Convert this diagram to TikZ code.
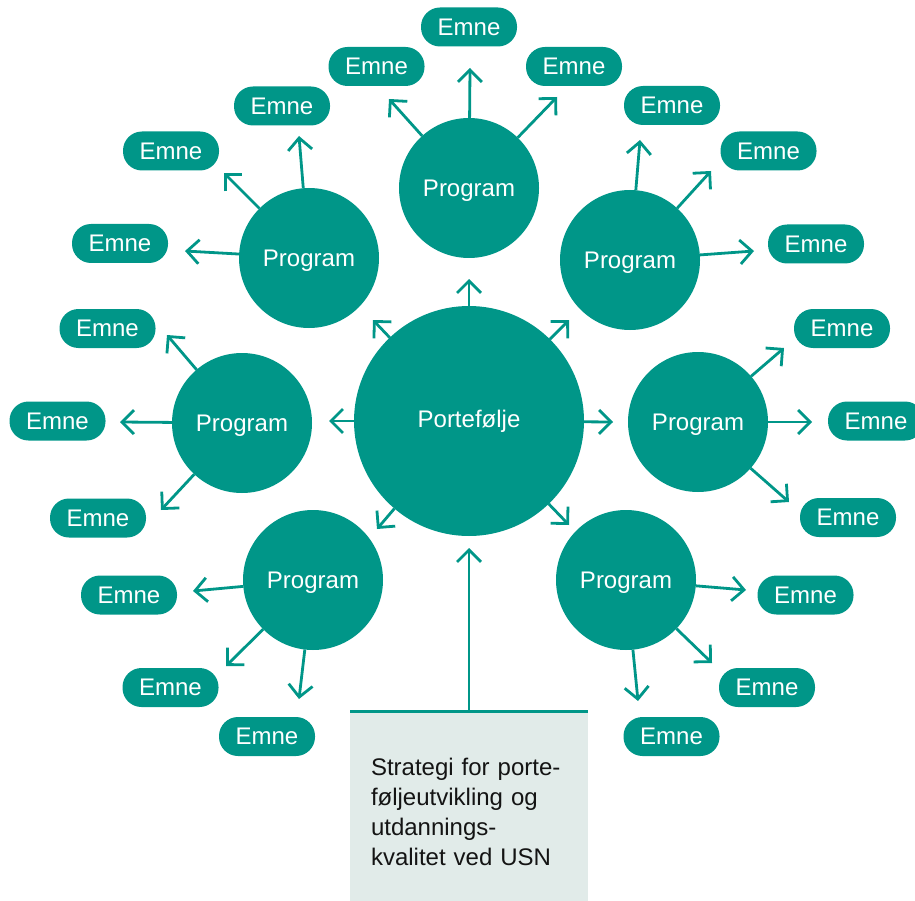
\documentclass[tikz,border=0pt]{standalone}
\usepackage{fontspec}
\newfontfamily\usnfont{Liberation Sans}
\definecolor{usngreen}{RGB}{0,150,136}
\definecolor{usnlight}{RGB}{225,235,233}
\definecolor{usnblack}{RGB}{20,20,20}
\usepackage{tikz}
\usetikzlibrary{arrows.meta}
\tikzstyle{base}=[x=1pt, y=-1pt, inner sep=0pt, outer sep=0pt]
\tikzstyle{port}=[circle, fill=usngreen, text=white, minimum size=230pt]
\tikzstyle{prog}=[circle, fill=usngreen, text=white, text depth=0pt, minimum size=140pt]
\tikzstyle{emne}=[rectangle, rounded corners=19pt, fill=usngreen, text=white, minimum width=96pt, minimum height=39pt]
\tikzstyle{arr}=[usngreen, line width=2.8pt, -{Straight Barb[length=12pt, width=24pt]}]
\tikzstyle{strat}=[rectangle, fill=usnlight, text=usnblack, align=left, text width=196pt, minimum width=238pt, minimum height=202pt]

\begin{document}
\begin{tikzpicture}[base]
    \usnfont \fontsize{24}{30}\selectfont
        \useasboundingbox (0,0) rectangle (915,901);
        \node [port] (port) at (469,421) {Portefølje};
        \node [prog] (p1) at (469,188) {Program};
        \node [prog] (p2) at (309,258) {Program};
        \node [prog] (p3) at (630,260) {Program};
        \node [prog] (p4) at (242,423) {Program};
        \node [prog] (p5) at (698,422) {Program};
        \node [prog] (p6) at (313,580) {Program};
        \node [prog] (p7) at (626,580) {Program};
        \node [emne] (e1a) at (469,27) {Emne};
        \node [emne] (e1b) at (376.5,66.5) {Emne};
        \node [emne] (e1c) at (574,66.5) {Emne};
        \node [emne] (e2a) at (282,106) {Emne};
        \node [emne] (e2b) at (171,151) {Emne};
        \node [emne] (e2c) at (120,243.5) {Emne};
        \node [emne] (e3a) at (672,105.5) {Emne};
        \node [emne] (e3b) at (768.5,151) {Emne};
        \node [emne] (e3c) at (816,244) {Emne};
        \node [emne] (e4a) at (107.5,328.5) {Emne};
        \node [emne] (e4b) at (57.5,421) {Emne};
        \node [emne] (e4c) at (98,518) {Emne};
        \node [emne] (e5a) at (842,328.5) {Emne};
        \node [emne] (e5b) at (876,421) {Emne};
        \node [emne] (e5c) at (848,517.5) {Emne};
        \node [emne] (e6a) at (129,595) {Emne};
        \node [emne] (e6b) at (170.5,687.5) {Emne};
        \node [emne] (e6c) at (267,736.5) {Emne};
        \node [emne] (e7a) at (805.5,595) {Emne};
        \node [emne] (e7b) at (767,687.5) {Emne};
        \node [emne] (e7c) at (671.5,736.5) {Emne};
        \node [strat, anchor=north] (strat) at (469,711) {Strategi for porte-\\føljeutvikling og\\utdannings-\\kvalitet ved USN};
        \draw [usngreen, line width=3pt] (strat.north west) -- (strat.north east);
        \coordinate (tb) at (469,548);
        \draw [arr] (strat) -- (tb);
        \foreach \from/\to/\x/\y in {port/pt1/469/279, port/pt2/373/320, port/pt3/569/320, port/pt4/329/421,
            port/pt5/613/422, port/pt6/377/529, port/pt7/569/525,
            p1/t1a/470/68, p1/t1b/389/99, p1/t1c/557/97,
            p2/t2a/299/136, p2/t2b/224/173, p2/t2c/185/251,
            p3/t3a/640/140, p3/t3b/711/171, p3/t3c/754/251,
            p4/t4a/167/335, p4/t4b/120/422, p4/t4c/161/510,
            p5/t5a/784/348, p5/t5b/812/422, p5/t5c/789/502,
            p6/t6a/193/591, p6/t6b/226/666, p6/t6c/299/699,
            p7/t7a/746/590, p7/t7b/712/663, p7/t7c/638/701}
        {
            \coordinate (\to) at (\x,\y);
            \draw [arr] (\from) -- (\to);
        }
    \end{tikzpicture}
\end{document}
